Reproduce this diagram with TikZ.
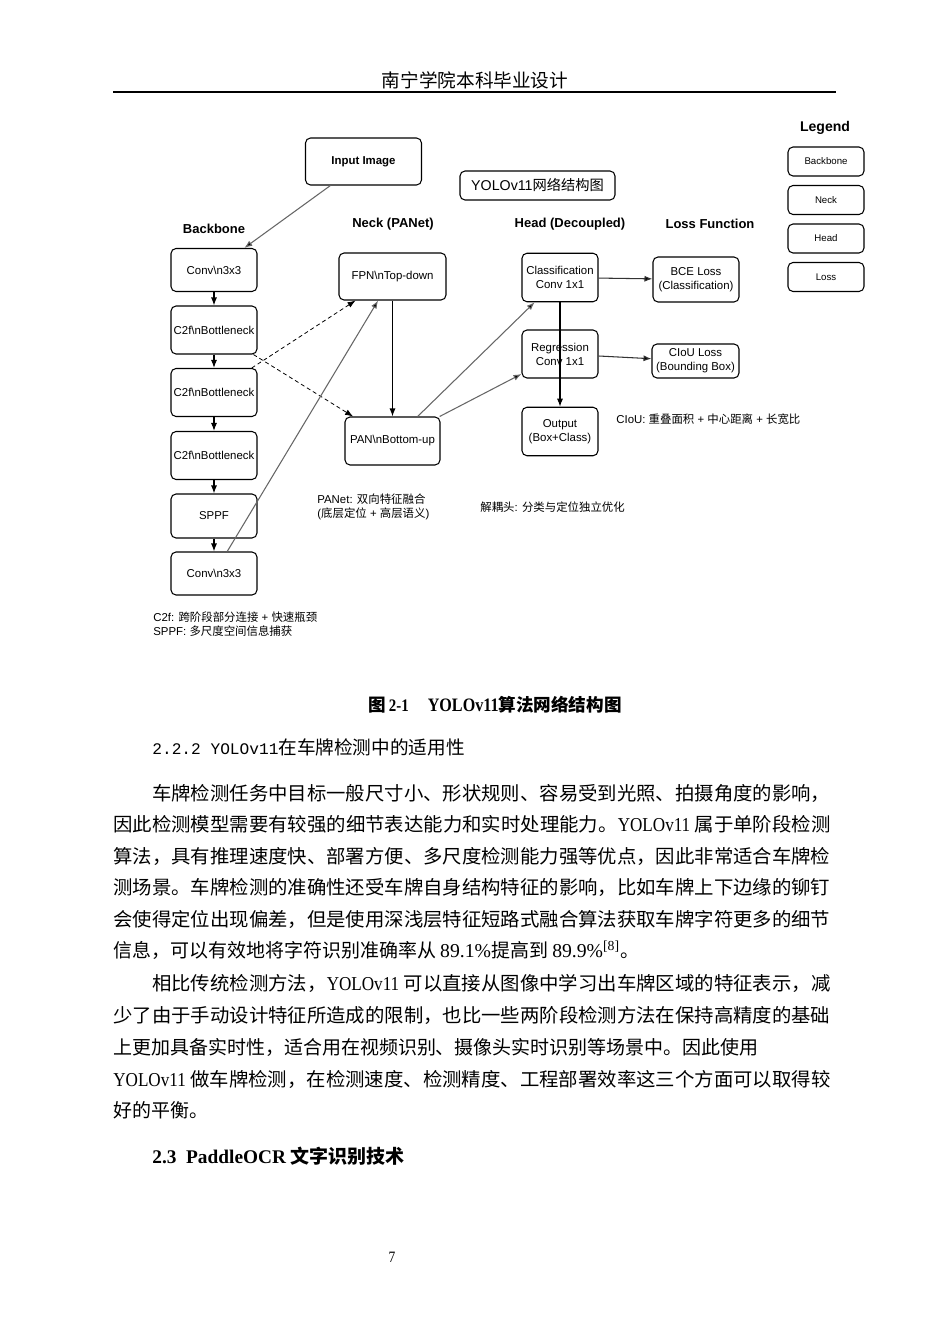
\documentclass[tikz,border=0pt]{standalone}
\usepackage{fontspec}
\usepackage{graphicx}
\setmainfont{Liberation Serif}
\setsansfont{Liberation Sans}
\setmonofont{Liberation Mono}
\newfontfamily\cjk{Noto Sans CJK SC}
\newfontfamily\narrowrm[FakeStretch=0.85]{Liberation Serif}
\newcommand{\fullline}[1]{\resizebox{143.4mm}{\height}{#1}}
\newcommand{\lat}[1]{{\narrowrm\fontsize{11.2}{13}\selectfont #1}}
\usetikzlibrary{arrows.meta}

\begin{document}
\begin{tikzpicture}[x=0.2mm, y=-0.2mm,
            box/.style={draw, rounded corners=1mm, line width=0.6pt, align=center, inner sep=0pt,
                font=\sffamily\fontsize{6.5}{8}\selectfont},
            bbbox/.style={box, minimum width=17.2mm, minimum height=9.2mm},
            hdbox/.style={box, minimum width=15.2mm, minimum height=9.7mm},
            legbox/.style={box, minimum width=15.2mm, minimum height=5.8mm, font=\sffamily\fontsize{5.5}{6}\selectfont},
            colhead/.style={font=\sffamily\bfseries\fontsize{7.4}{9}\selectfont},
            note/.style={anchor=west, align=left, inner sep=0pt, font=\sffamily\fontsize{6.5}{8}\selectfont},
            arr/.style={-{Latex[length=1.6mm,width=1.2mm]}, line width=0.6pt},
            grayarr/.style={arr, draw=black!60},
            dasharr/.style={arr, line width=0.45pt, dash pattern=on 0.8mm off 0.6mm},
            bodyline/.style={anchor=base west, inner sep=0pt,
                font=\cjk\fontsize{10.8}{13}\selectfont}]
            \fill[white] (0,0) rectangle (950,1344);
            \path[use as bounding box] (0,0) rectangle (950,1344);

            % page header
            \node[inner sep=0pt, font=\cjk\fontsize{10.6}{12}\selectfont] (pghead) at (475,80) {南宁学院本科毕业设计};
            \draw[line width=1.1pt] (113,92) -- (836,92);

            % diagram
            \node[box, minimum width=23.2mm, minimum height=9.4mm, font=\sffamily\bfseries\fontsize{6.5}{8}\selectfont] (inp) at (363.5,161.5) {Input Image};
            \node[box, minimum width=31mm, minimum height=5.8mm, font=\sffamily\fontsize{8.1}{9}\selectfont] (title) at (537.5,185.5) {YOLOv11{\cjk 网络结构图}};

            \node[colhead, font=\sffamily\bfseries\fontsize{8}{9}\selectfont] (leghead) at (825,128) {Legend};
            \node[legbox] (legbb) at (826,161.5) {Backbone};
            \node[legbox] (legneck) at (826,200) {Neck};
            \node[legbox] (leghead2) at (826,238.5) {Head};
            \node[legbox] (legloss) at (826,277) {Loss};

            \node[colhead] (hbb) at (214,229) {Backbone};
            \node[colhead] (hneck) at (393,224) {Neck (PANet)};
            \node[colhead] (hhead) at (570,224) {Head (Decoupled)};
            \node[colhead] (hloss) at (710,224) {Loss Function};

            \node[bbbox, minimum height=8.6mm] (bb1) at (214,270) {Conv\textbackslash n3x3};
            \node[bbbox, minimum height=9.6mm] (c2f1) at (214,330) {C2f\textbackslash nBottleneck};
            \node[bbbox, minimum height=9.6mm] (c2f2) at (214,392.5) {C2f\textbackslash nBottleneck};
            \node[bbbox, minimum height=9.6mm] (c2f3) at (214,455.5) {C2f\textbackslash nBottleneck};
            \node[bbbox, minimum height=8.8mm] (sppf) at (214,516) {SPPF};
            \node[bbbox, minimum height=8.6mm] (bb2) at (214,573.5) {Conv\textbackslash n3x3};

            \node[box, minimum width=21.4mm, minimum height=9.4mm] (fpn) at (392.5,276.5) {FPN\textbackslash nTop-down};
            \node[box, minimum width=19mm, minimum height=9.6mm] (pan) at (392.5,441) {PAN\textbackslash nBottom-up};

            \node[hdbox] (cls) at (560,277.5) {Classification\\Conv 1x1};
            \node[hdbox, minimum height=9.6mm] (reg) at (560,354) {Regression\\Conv 1x1};
            \node[hdbox] (out) at (560,431.5) {Output\\(Box+Class)};

            \node[box, minimum width=17.2mm, minimum height=9mm] (bce) at (696,279.5) {BCE Loss\\(Classification)};
            \node[box, minimum width=17.4mm, minimum height=6.8mm] (ciou) at (695.5,361) {CIoU Loss\\(Bounding Box)};

            \draw[grayarr] (inp) edge (bb1);
            \draw[arr] (bb1) edge (c2f1);
            \draw[arr] (c2f1) edge (c2f2);
            \draw[arr] (c2f2) edge (c2f3);
            \draw[arr] (c2f3) edge (sppf);
            \draw[arr] (sppf) edge (bb2);
            \draw[dasharr] (c2f1) edge (pan);
            \draw[dasharr] (c2f2) edge (fpn);
            \draw[grayarr] (bb2) edge (fpn);
            \draw[arr] (fpn) edge (pan);
            \draw[grayarr] (pan) edge (cls);
            \draw[grayarr] (pan) edge (reg);
            \draw[arr, draw=black!80] (cls) edge (bce);
            \draw[arr, draw=black!80] (reg) edge (ciou);
            \draw[arr] (cls) edge (out);

            \node[note] (ciounote) at (616,419) {CIoU: {\cjk 重叠面积} + {\cjk 中心距离} + {\cjk 长宽比}};
            \node[note] (pannote) at (317,507) {PANet: {\cjk 双向特征融合}\\({\cjk 底层定位} + {\cjk 高层语义})};
            \node[note] (headnote) at (480,507) {{\cjk 解耦头}: {\cjk 分类与定位独立优化}};
            \node[note] (bbnote) at (153,624) {C2f: {\cjk 跨阶段部分连接} + {\cjk 快速瓶颈}\\SPPF: {\cjk 多尺度空间信息捕获}};

            % caption and text
            \node[inner sep=0pt, font=\fontsize{10}{12}\selectfont] (caption) at (495,705)
                {{\cjk\bfseries 图}\,{\narrowrm\bfseries 2-1}\hspace{3.8mm}{\narrowrm\bfseries\fontsize{10.8}{12}\selectfont YOLOv11}{\cjk\bfseries 算法网络结构图}};
            \node[anchor=west, inner sep=0pt] (subsec) at (152,747)
                {{\ttfamily\fontsize{9.2}{11}\selectfont 2.2.2 YOLOv11}{\cjk\fontsize{10.6}{12}\selectfont 在车牌检测中的适用性}};

            \node[bodyline] (p1a) at (113,800) {\fullline{\hspace*{2em}车牌检测任务中目标一般尺寸小、形状规则、容易受到光照、拍摄角度的影响，}};
            \node[bodyline] (p1b) at (113,831) {\fullline{因此检测模型需要有较强的细节表达能力和实时处理能力。\lat{YOLOv11} 属于单阶段检测}};
            \node[bodyline] (p1c) at (113,863) {\fullline{算法，具有推理速度快、部署方便、多尺度检测能力强等优点，因此非常适合车牌检}};
            \node[bodyline] (p1d) at (113,894) {\fullline{测场景。车牌检测的准确性还受车牌自身结构特征的影响，比如车牌上下边缘的铆钉}};
            \node[bodyline] (p1e) at (113,926) {\fullline{会使得定位出现偏差，但是使用深浅层特征短路式融合算法获取车牌字符更多的细节}};
            \node[bodyline] (p1f) at (113,957) {信息，可以有效地将字符识别准确率从 {\fontsize{11.2}{13}\selectfont\rmfamily 89.1\%}提高到 {\fontsize{11.2}{13}\selectfont\rmfamily 89.9\%\textsuperscript{[8]}}。};

            \node[bodyline] (p2a) at (113,990) {\fullline{\hspace*{2em}相比传统检测方法，\lat{YOLOv11} 可以直接从图像中学习出车牌区域的特征表示，减}};
            \node[bodyline] (p2b) at (113,1022) {\fullline{少了由于手动设计特征所造成的限制，也比一些两阶段检测方法在保持高精度的基础}};
            \node[bodyline] (p2c) at (113,1054) {上更加具备实时性，适合用在视频识别、摄像头实时识别等场景中。因此使用};
            \node[bodyline] (p2d) at (113,1086) {\fullline{\lat{YOLOv11} 做车牌检测，在检测速度、检测精度、工程部署效率这三个方面可以取得较}};
            \node[bodyline] (p2e) at (113,1117) {好的平衡。};

            \node[anchor=west, inner sep=0pt] (sec) at (152,1156)
                {{\bfseries\fontsize{11}{13}\selectfont 2.3\ \ PaddleOCR }{\cjk\bfseries\fontsize{10.8}{13}\selectfont 文字识别技术}};

            \node[inner sep=0pt, font=\narrowrm\fontsize{9}{11}\selectfont] (pgnum) at (392,1257) {7};
        \end{tikzpicture}
\end{document}
